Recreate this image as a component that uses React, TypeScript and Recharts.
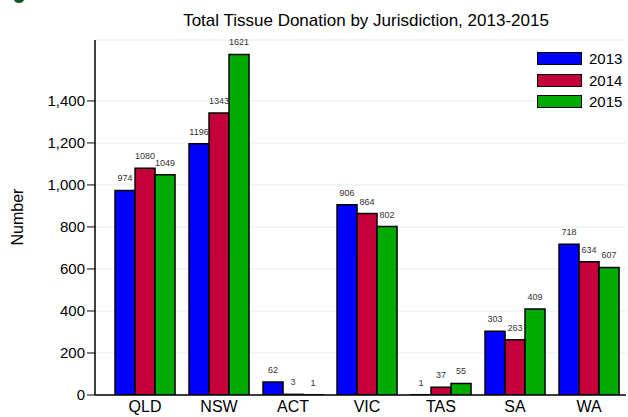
import React from "react";
import { BarChart, Bar, XAxis, YAxis, CartesianGrid, LabelList } from "recharts";

const jurisdictions = ["QLD", "NSW", "ACT", "VIC", "TAS", "SA", "WA"];
const values2013 = [974, 1196, 62, 906, 1, 303, 718];
const values2014 = [1080, 1343, 3, 864, 37, 263, 634];
const values2015 = [1049, 1621, 1, 802, 55, 409, 607];
const yTicks = [0, 200, 400, 600, 800, 1000, 1200, 1400];

const years = ["2013", "2014", "2015"];
const colors = ["#0000ff", "#c4003a", "#00aa00"];

const data = jurisdictions.map((j, i) => ({
  name: j,
  y2013: values2013[i],
  y2014: values2014[i],
  y2015: values2015[i],
}));

const font = "'Liberation Sans', Arial, sans-serif";

export default function App() {
  return (
    <div style={{ position: "fixed", left: 0, top: 0, width: 628, height: 417, background: "#fff", fontFamily: font, overflow: "hidden" }}>
      <div style={{ position: "absolute", left: 14, top: -4, width: 10, height: 7, borderRadius: "50%", background: "#0d5a1e" }} />
      <div
        style={{
          position: "absolute",
          left: 366,
          top: 12,
          transform: "translateX(-50%)",
          fontSize: 17,
          lineHeight: "17px",
          whiteSpace: "nowrap",
          color: "#000",
        }}
      >
        Total Tissue Donation by Jurisdiction, 2013-2015
      </div>
      <div
        style={{
          position: "absolute",
          left: 18,
          top: 217,
          transform: "translate(-50%, -50%) rotate(-90deg)",
          fontSize: 16,
          lineHeight: "16px",
          whiteSpace: "nowrap",
          color: "#000",
        }}
      >
        Number
      </div>
      <BarChart
        width={628}
        height={417}
        data={data}
        margin={{ top: 40, right: 2, bottom: 0, left: 0 }}
        barCategoryGap="9.5%"
        barGap={0}
      >
        <CartesianGrid horizontal vertical={false} stroke="#e4eeee" strokeWidth={1} />
        <XAxis
          dataKey="name"
          height={22}
          padding={{ left: 13, right: 0 }}
          tickLine={false}
          tickSize={5}
          tickMargin={1}
          axisLine={{ stroke: "#000", strokeWidth: 1.5 }}
          tick={{ fill: "#000", fontSize: 16, fontFamily: font }}
          interval={0}
        />
        <YAxis
          width={95}
          domain={[0, 1690]}
          ticks={yTicks}
          allowDataOverflow
          tickSize={8}
          tickMargin={2}
          tickLine={{ stroke: "#000", strokeWidth: 1 }}
          axisLine={{ stroke: "#000", strokeWidth: 1.5 }}
          tick={{ fill: "#000", fontSize: 15, fontFamily: font }}
          tickFormatter={(v: number) => v.toLocaleString("en-US")}
        />
        {["y2013", "y2014", "y2015"].map((k, i) => (
          <Bar key={k} dataKey={k} fill={colors[i]} stroke="#000" strokeWidth={1.5} isAnimationActive={false}>
            <LabelList dataKey={k} position="top" offset={9} style={{ fill: "#333", fontSize: 9, fontFamily: font }} />
          </Bar>
        ))}
      </BarChart>
      {years.map((y, i) => (
        <div key={y} style={{ position: "absolute", left: 537, top: 52 + i * 21.5, height: 13, display: "flex", alignItems: "center" }}>
          <div style={{ width: 43, height: 11, background: colors[i], border: "1.5px solid #000" }} />
          <span style={{ marginLeft: 7, fontSize: 15, lineHeight: "13px", color: "#000" }}>{y}</span>
        </div>
      ))}
    </div>
  );
}
